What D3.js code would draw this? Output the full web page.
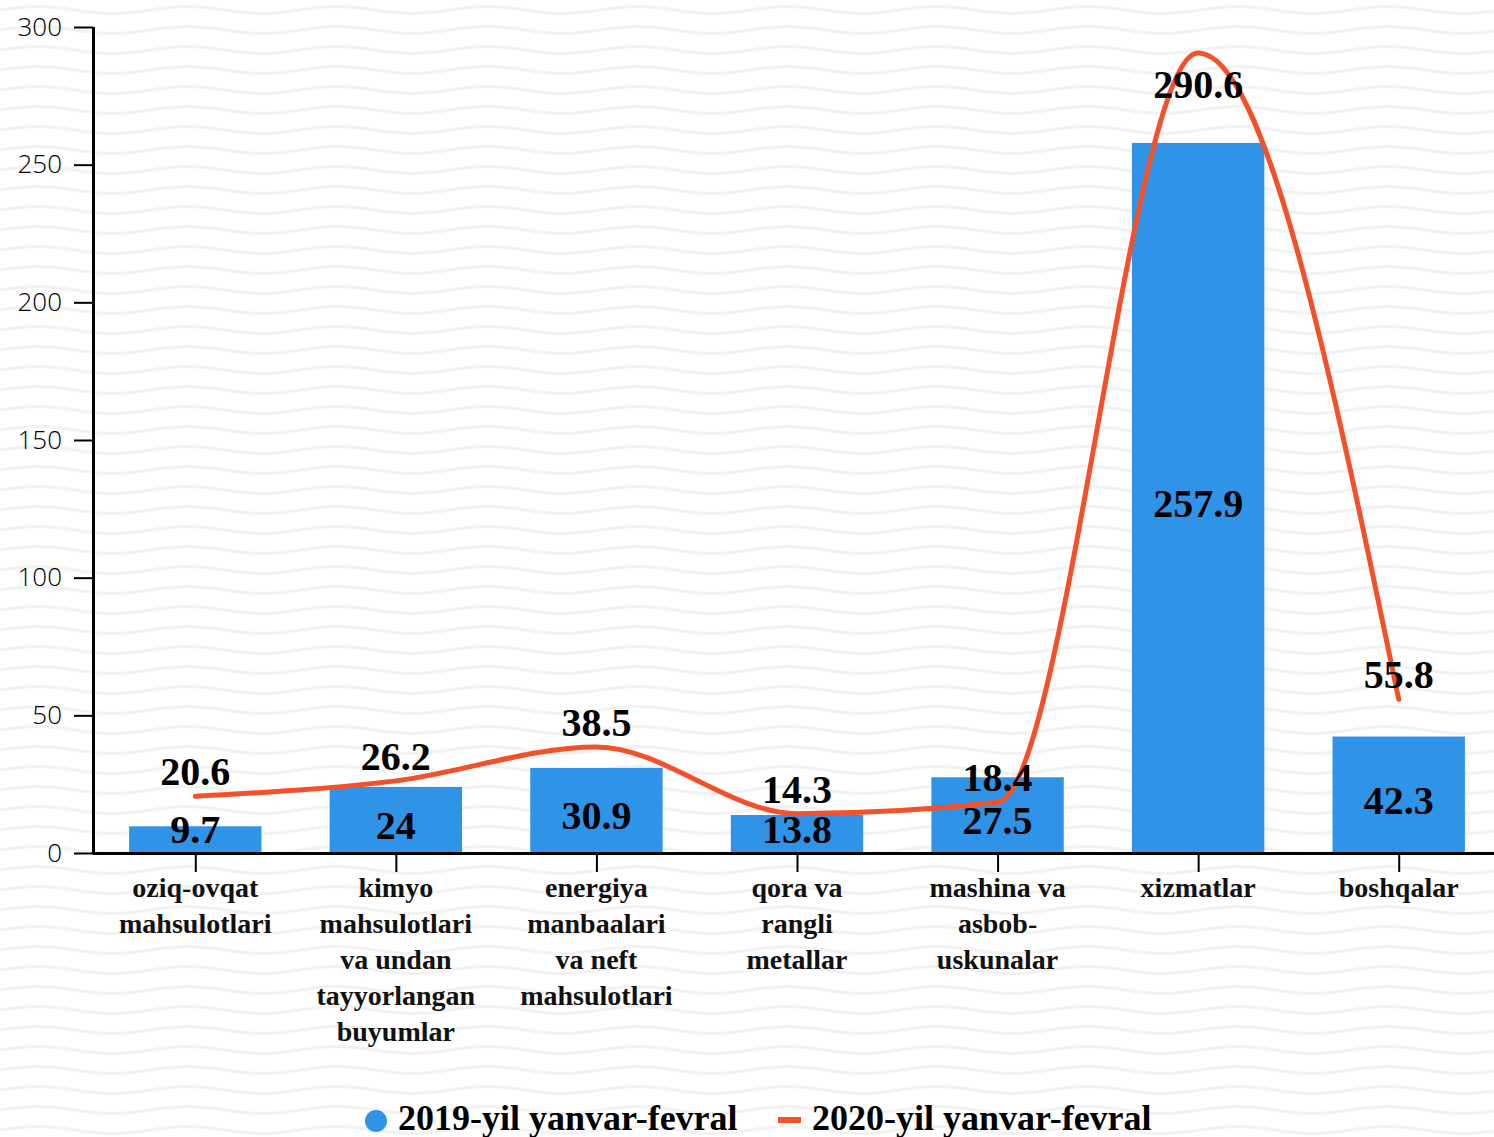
<!DOCTYPE html>
<html><head><meta charset="utf-8">
<script src="https://cdn.jsdelivr.net/npm/d3@7"></script>
<style>html,body{margin:0;padding:0;background:#fff;}svg{display:block;}</style>
</head><body>
<svg id="chart" width="1494" height="1137"></svg>
<script>
const categories = [
  "oziq-ovqat\nmahsulotlari",
  "kimyo\nmahsulotlari\nva undan\ntayyorlangan\nbuyumlar",
  "energiya\nmanbaalari\nva neft\nmahsulotlari",
  "qora va\nrangli\nmetallar",
  "mashina va\nasbob-\nuskunalar",
  "xizmatlar",
  "boshqalar"
];
const values2019 = [9.7, 24, 30.9, 13.8, 27.5, 257.9, 42.3];
const values2020 = [20.6, 26.2, 38.5, 14.3, 18.4, 290.6, 55.8];
const yTicks = [0, 50, 100, 150, 200, 250, 300];
const seriesNames = ["2019-yil yanvar-fevral", "2020-yil yanvar-fevral"];

const W = 1494, H = 1137;
const svg = d3.select("#chart");
const defs = svg.append("defs");

// wavy background pattern
const pw = 150, ph = 20;
const pat = defs.append("pattern").attr("id", "waves").attr("patternUnits", "userSpaceOnUse")
  .attr("width", pw).attr("height", ph);
const wavePts = d3.range(0, pw + 1, 5).map(x => [x, ph / 2 - 3.5 * Math.sin(x / pw * 2 * Math.PI)]);
const waveLine = d3.line().curve(d3.curveBasis);
[-ph, 0, ph].forEach(dy => {
  pat.append("path").attr("d", waveLine(wavePts.map(p => [p[0], p[1] + dy])))
    .attr("fill", "none").attr("stroke", "#f2f2f2").attr("stroke-width", 3);
});
svg.append("rect").attr("width", W).attr("height", H).attr("fill", "#fff");
svg.append("rect").attr("width", W).attr("height", H).attr("fill", "url(#waves)");

const x0 = 93, x1 = 1499, yTop = 27, yBot = 853;
const x = d3.scaleBand().domain(d3.range(categories.length)).range([x0 + 2, x1]).paddingInner(0.34).paddingOuter(0.17);
const y = d3.scaleLinear().domain([0, 300]).range([yBot, yTop]);
const cx = i => x(i) + x.bandwidth() / 2;

const blue = "#2f93e8", red = "#f4502a";

// bars
svg.append("g").selectAll("rect").data(values2019).join("rect")
  .attr("x", (d, i) => x(i)).attr("y", d => y(d))
  .attr("width", x.bandwidth()).attr("height", d => yBot - y(d))
  .attr("fill", blue);

// y axis
const yAxis = svg.append("g").attr("transform", `translate(${x0},0)`)
  .call(d3.axisLeft(y).tickValues(yTicks).tickSize(19).tickPadding(12));
yAxis.select(".domain").attr("stroke", "#000").attr("stroke-width", 3).attr("d", `M0.5,${yTop}V${yBot}`);
yAxis.selectAll(".tick line").attr("stroke", "#000").attr("stroke-width", 2);
yAxis.selectAll(".tick text").attr("font-family", "'Open Sans', Lato, sans-serif").attr("font-weight", 300)
  .attr("font-size", 26).attr("fill", "#000");

// x axis
const xAxis = svg.append("g").attr("transform", `translate(0,${yBot})`)
  .call(d3.axisBottom(d3.scalePoint().domain(d3.range(categories.length)).range([cx(0), cx(categories.length - 1)]))
    .tickSize(19).tickFormat(""));
xAxis.select(".domain").attr("stroke", "#000").attr("stroke-width", 3).attr("d", `M${x0},0.5H${W}`);
xAxis.selectAll(".tick line").attr("stroke", "#000").attr("stroke-width", 2);

const serif = "'Liberation Serif', 'Times New Roman', serif";
// category labels
const catG = svg.append("g");
categories.forEach((c, i) => {
  const t = catG.append("text").attr("text-anchor", "middle").attr("font-family", serif)
    .attr("font-weight", "bold").attr("font-size", 28).attr("fill", "#111");
  c.split("\n").forEach((ln, k) => {
    t.append("tspan").attr("x", cx(i)).attr("y", 897 + k * 36).text(ln);
  });
});

// line
const line = d3.line().x((d, i) => cx(i)).y(d => y(d)).curve(d3.curveMonotoneX);
svg.append("path").datum(values2020).attr("d", line).attr("fill", "none")
  .attr("stroke", red).attr("stroke-width", 5).attr("stroke-linecap", "round");

// labels 2019 (inside bars)
svg.append("g").selectAll("text").data(values2019).join("text")
  .attr("x", (d, i) => cx(i))
  .attr("y", d => Math.min((y(d) + yBot) / 2 + 19, yBot - 10))
  .attr("text-anchor", "middle").attr("font-family", serif).attr("font-weight", "bold")
  .attr("font-size", 40).attr("fill", "#000").text(d => d);

// labels 2020 (above points)
svg.append("g").selectAll("text").data(values2020).join("text")
  .attr("x", (d, i) => cx(i))
  .attr("y", d => Math.max(y(d) - 11, yTop + 71))
  .attr("text-anchor", "middle").attr("font-family", serif).attr("font-weight", "bold")
  .attr("font-size", 40).attr("fill", "#000").text(d => d);

// legend
const lg = svg.append("g");
lg.append("circle").attr("cx", 376).attr("cy", 1121).attr("r", 11).attr("fill", blue);
lg.append("text").attr("x", 398).attr("y", 1130).attr("font-family", serif).attr("font-weight", "bold")
  .attr("font-size", 36).attr("fill", "#000").text(seriesNames[0]);
lg.append("rect").attr("x", 778).attr("y", 1117).attr("width", 23).attr("height", 6).attr("fill", red);
lg.append("text").attr("x", 812).attr("y", 1130).attr("font-family", serif).attr("font-weight", "bold")
  .attr("font-size", 36).attr("fill", "#000").text(seriesNames[1]);
</script>
</body></html>
